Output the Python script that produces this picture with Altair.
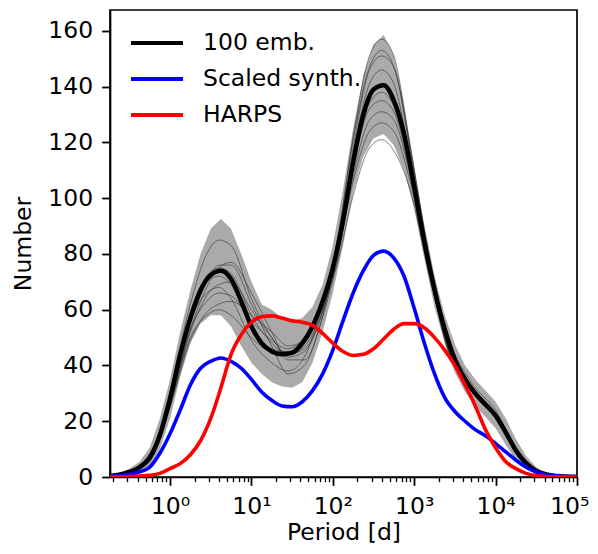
import altair as alt
import pandas as pd

# ---------------- data ----------------
log_period = [-0.75, -0.625, -0.5, -0.375, -0.25, -0.125, 0.0, 0.125, 0.25, 0.375,
              0.5, 0.625, 0.75, 0.875, 1.0, 1.125, 1.25, 1.375, 1.5, 1.625,
              1.75, 1.875, 2.0, 2.125, 2.25, 2.375, 2.5, 2.625, 2.75, 2.875,
              3.0, 3.125, 3.25, 3.375, 3.5, 3.625, 3.75, 3.875, 4.0, 4.125,
              4.25, 4.375, 4.5, 4.625, 4.75, 4.875, 5.0]

mean_curve = [0.3, 0.8, 1.8, 3.5, 7, 15, 28, 44, 57, 67,
              72.5, 74, 71, 63, 54, 48, 45, 44, 44.5, 48,
              54, 63, 75, 92, 113, 130, 139, 140.5, 135, 123,
              104, 84, 67, 53, 42, 35, 30, 26, 22, 16,
              9.5, 5, 2.2, 0.9, 0.35, 0.15, 0.05]

band_high = [0.6, 1.4, 3, 5.5, 10.5, 21, 35, 52, 67, 80,
             89, 92.5, 89, 80, 70, 62, 60, 57, 56, 57,
             61, 69, 83, 103, 125, 144, 155, 158.5, 151, 134,
             111, 90, 72, 58, 47.5, 40, 35, 31, 27, 21,
             13.5, 7.5, 3.5, 1.5, 0.6, 0.25, 0.1]

band_low = [0.1, 0.4, 1, 2, 4, 10, 21, 36, 48, 55,
            58, 58, 54, 47, 41, 37, 34, 32.5, 32, 34,
            41, 52, 66, 83, 102, 115, 121.5, 123, 119, 110,
            96, 78, 61, 48, 37.5, 30.5, 25.5, 21.5, 17.5, 11.5,
            6, 2.8, 1.1, 0.4, 0.15, 0.05, 0]

synth_curve = [0.15, 0.4, 1.0, 1.8, 3.5, 8.5, 15.5, 24, 33, 39,
               41.5, 42.7, 41.5, 39, 35, 30.5, 27.5, 25.5, 25.2, 27,
               31, 37, 45.5, 56, 66, 74, 79.5, 81, 78.5, 72,
               60.5, 48, 37, 28.5, 23.5, 20, 17, 14.8, 12, 9,
               6, 3.5, 1.8, 0.8, 0.35, 0.15, 0.05]

harps_curve = [0.05, 0.1, 0.2, 0.35, 0.6, 1.3, 3, 4.8, 8, 13,
               21, 32, 44, 51, 55.5, 57.5, 57.8, 57, 56, 55.5,
               54.5, 51.5, 48, 45, 43.6, 44, 46, 49.5, 53, 55,
               55, 53.5, 50, 45.5, 40, 33, 25.5, 17, 10.5, 5.5,
               3, 1.3, 0.5, 0.2, 0.1, 0.05, 0]

member_log_period = [-0.75, -0.5, -0.25, 0.0, 0.25, 0.45, 0.6, 0.75, 1.0, 1.25,
                     1.45, 1.65, 1.85, 2.05, 2.25, 2.45, 2.6, 2.75, 2.95, 3.15,
                     3.4, 3.7, 4.0, 4.3, 4.6, 5.0]

member_1 = [0.3, 2.0, 7.5, 31, 62, 80, 85, 83, 64, 50, 44, 46, 57, 80, 118, 146, 151, 147, 117, 85, 52, 34, 24, 7.5, 1.1, 0.05]
member_2 = [0.3, 1.6, 6.0, 26, 53, 68, 75, 77, 66, 52, 42, 42, 55, 82, 122, 151, 157, 151, 118, 84, 51, 33, 23, 7, 1.1, 0.05]
member_3 = [0.3, 1.8, 6.5, 27, 55, 70, 76, 76, 62, 47, 37, 40, 55, 77, 108, 128, 131, 128, 108, 79, 47, 31, 21, 6.5, 1, 0.05]
member_4 = [0.3, 1.9, 7.0, 29, 58, 70, 72, 69, 54, 46, 45, 48, 60, 81, 116, 141, 146, 141, 114, 82, 49, 32, 22, 7, 1, 0.05]
member_5 = [0.3, 1.7, 6.5, 27, 53, 63, 66, 65, 56, 49, 46, 50, 62, 81, 112, 134, 138, 133, 111, 80, 48, 31, 21.5, 6.5, 1, 0.05]
member_6 = [0.3, 1.5, 5.5, 25, 49, 59, 62, 63, 58, 52, 47, 49, 60, 79, 106, 124, 127, 124, 106, 79, 47, 31, 21, 6.5, 1, 0.05]
member_7 = [0.3, 1.8, 6.5, 28, 56, 66, 68, 64, 49, 41, 38, 43, 60, 84, 121, 147, 153, 147, 119, 84, 50, 32, 22, 7, 1, 0.05]
member_8 = [0.3, 1.6, 6.0, 26, 50, 58, 60, 58, 50, 45, 45, 49, 59, 76, 101, 118, 121, 117, 103, 78, 47, 31, 21, 6.5, 1, 0.05]
member_9 = [0.3, 1.9, 7.0, 29, 59, 72, 75, 73, 58, 48, 44, 47, 58, 79, 111, 132, 135, 131, 109, 80, 49, 32, 22, 7, 1, 0.05]
member_10 = [0.3, 1.7, 6.0, 26, 52, 65, 69, 70, 60, 50, 43, 45, 57, 79, 114, 137, 141, 136, 112, 81, 48, 31, 21.5, 6.5, 1, 0.05]
members = [member_1, member_2, member_3, member_4, member_5,
           member_6, member_7, member_8, member_9, member_10]

series_names = ["100 emb.", "Scaled synth.", "HARPS"]
series_colors = ["#000000", "#0000ff", "#ff0000"]

x_major_ticks = [1, 10, 100, 1000, 10000, 100000]
x_minor_ticks = [m * d for d in [0.1, 1, 10, 100, 1000, 10000] for m in range(2, 10)]
y_ticks = [0, 20, 40, 60, 80, 100, 120, 140, 160]

X_MIN, X_MAX = 0.183, 100000
Y_MAX = 167.5

# ---------------- tables ----------------
period = [10 ** v for v in log_period]
band_df = pd.DataFrame({"period": period, "low": band_low, "high": band_high})

rows = []
for name, vals in zip(series_names, [mean_curve, synth_curve, harps_curve]):
    for p, v in zip(period, vals):
        rows.append({"period": p, "value": v, "series": name})
lines_df = pd.DataFrame(rows)

mrows = []
for i, vals in enumerate(members):
    for lp, v in zip(member_log_period, vals):
        mrows.append({"period": 10 ** lp, "value": v, "member": i})
members_df = pd.DataFrame(mrows)

# ---------------- styling ----------------
FONT = "DejaVu Sans"
FS = 23.5

E = "round(log(datum.value)/LN10)"
MAJOR = f"abs(log(datum.value)/LN10 - {E}) < 0.01"
label_expr = (f"{MAJOR} ? '10' + ({E} == 0 ? '⁰' : {E} == 1 ? '¹' : {E} == 2 ? '²' : "
              f"{E} == 3 ? '³' : {E} == 4 ? '⁴' : '⁵') : ''")

x_axis = alt.Axis(
    title="Period [d]",
    values=sorted(x_major_ticks + x_minor_ticks),
    labelExpr=label_expr,
    tickSize={"condition": {"test": MAJOR, "value": 8.3}, "value": 4.7},
    tickWidth={"condition": {"test": MAJOR, "value": 1.8}, "value": 1.3},
    labelPadding=9,
    titlePadding=3,
    labelFlush=True,
    labelFlushOffset=12,
    labelOverlap=False,
    grid=False,
)
y_axis = alt.Axis(
    title="Number",
    values=y_ticks,
    tickSize=8.3,
    tickWidth=1.8,
    labelPadding=9,
    titlePadding=12,
    grid=False,
)

x_scale = alt.Scale(type="log", domain=[X_MIN, X_MAX], nice=False)
y_scale = alt.Scale(domain=[0, Y_MAX], nice=False, zero=False)


def xenc():
    return alt.X("period:Q", scale=x_scale, axis=x_axis)


color_enc = alt.Color(
    "series:N",
    scale=alt.Scale(domain=series_names, range=series_colors),
    sort=series_names,
    legend=alt.Legend(
        title=None,
        orient="none",
        legendX=32,
        legendY=18,
        padding=0,
        symbolType="M-2,0H2",
        symbolSize=676,
        symbolStrokeWidth=3.8,
        labelFont=FONT,
        labelFontSize=FS,
        labelColor="black",
        labelOffset=31,
        labelLimit=500,
        rowPadding=9,
    ),
)

band = alt.Chart(band_df).mark_area(color="#aaaaaa", opacity=1, clip=True).encode(
    x=xenc(),
    y=alt.Y("low:Q", scale=y_scale, axis=y_axis),
    y2="high:Q",
)

member_lines = alt.Chart(members_df).mark_line(
    color="#333333", strokeWidth=1.0, opacity=0.6, clip=True, interpolate="monotone"
).encode(
    x=xenc(),
    y=alt.Y("value:Q", scale=y_scale, axis=y_axis),
    detail="member:N",
)


def series_layer(name, width):
    return alt.Chart(lines_df).transform_filter(
        alt.datum.series == name
    ).mark_line(strokeWidth=width, clip=True, interpolate="monotone").encode(
        x=xenc(),
        y=alt.Y("value:Q", scale=y_scale, axis=y_axis),
        color=color_enc,
    )


chart = alt.layer(
    band,
    member_lines,
    series_layer("100 emb.", 4.5),
    series_layer("Scaled synth.", 3.6),
    series_layer("HARPS", 3.6),
).properties(
    width=467,
    height=467,
    autosize=alt.AutoSizeParams(type="none"),
    padding={"left": 102, "top": 2, "right": 13, "bottom": 68},
).configure_view(
    stroke="black", strokeWidth=1.7
).configure_axis(
    domainColor="black",
    domainWidth=1.7,
    tickColor="black",
    labelColor="black",
    titleColor="black",
    labelFont=FONT,
    titleFont=FONT,
    labelFontSize=FS,
    titleFontSize=FS,
    titleFontWeight="normal",
)

chart.save("out.html", embed_options={"renderer": "svg", "actions": False})
